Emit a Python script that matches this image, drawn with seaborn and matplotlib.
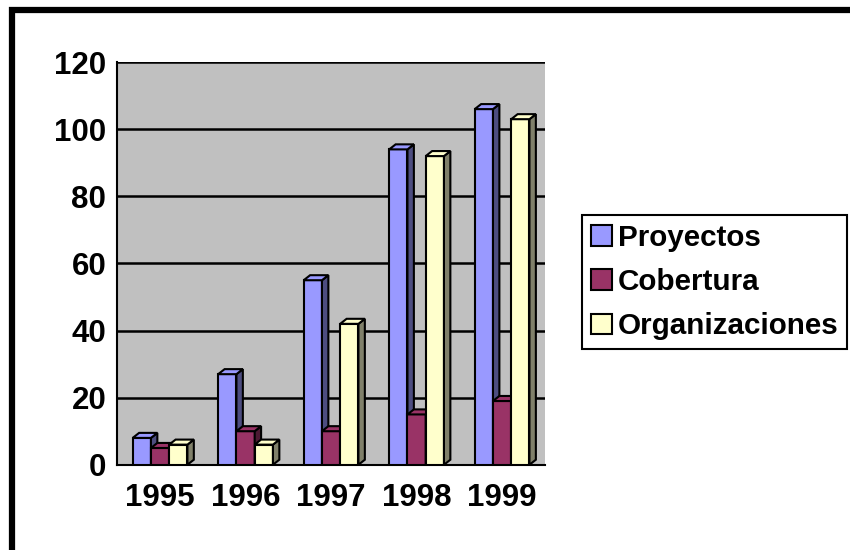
import pandas as pd
import numpy as np
import matplotlib.pyplot as plt
import seaborn as sns
from matplotlib.patches import Polygon, Rectangle

# Datos
anios = ['1995', '1996', '1997', '1998', '1999']
series = ['Proyectos', 'Cobertura', 'Organizaciones']
proyectos = [8, 27, 55, 94, 106]
cobertura = [5, 10, 10, 15, 19]
organizaciones = [6, 6, 42, 92, 103]

colores = ['#9999FF', '#993366', '#FFFFCC']
lados = ['#4D4D80', '#4D1A33', '#80806A']

df = pd.DataFrame({
    'anio': anios * 3,
    'serie': [s for s in series for _ in anios],
    'valor': proyectos + cobertura + organizaciones,
})

sns.set_style('white')
plt.rcParams['font.family'] = ['Liberation Sans', 'DejaVu Sans']
plt.rcParams['font.weight'] = 'bold'
plt.rcParams['text.color'] = 'black'
plt.rcParams['xtick.color'] = 'black'
plt.rcParams['ytick.color'] = 'black'

fig = plt.figure(figsize=(8.5, 5.5), dpi=100)
ax = fig.add_axes([0.138, 0.155, 0.503, 0.732])
ax.set_facecolor('#C0C0C0')

sns.barplot(data=df, x='anio', y='valor', hue='serie', hue_order=series,
            palette=colores, width=0.64, saturation=1, edgecolor='black',
            linewidth=1.5, ax=ax, legend=False, zorder=3)

# efecto 3D: caras lateral y superior a partir de las barras dibujadas
dx, dy = 0.075, 1.5
z = 3
for j in range(len(anios)):
    for k, cont in enumerate(ax.containers):
        p = cont.patches[j]
        x0, w, h = p.get_x(), p.get_width(), p.get_height()
        z += 1
        p.set_zorder(z)
        side = Polygon([(x0 + w, 0), (x0 + w + dx, dy), (x0 + w + dx, h + dy), (x0 + w, h)],
                       closed=True, fc=lados[k], ec='black', lw=1.5, zorder=z)
        top = Polygon([(x0, h), (x0 + dx, h + dy), (x0 + w + dx, h + dy), (x0 + w, h)],
                      closed=True, fc=colores[k], ec='black', lw=1.5, zorder=z)
        ax.add_patch(side)
        ax.add_patch(top)

ax.set_ylim(0, 120)
ax.set_xlim(-0.5, 4.5)
ax.set_yticks(range(0, 121, 20))
ax.yaxis.grid(True, color='black', lw=1.8, zorder=1)
ax.set_axisbelow(True)
ax.set_xlabel('')
ax.set_ylabel('')

for s in ['top', 'right']:
    ax.spines[s].set_visible(False)
ax.spines['left'].set_color('black')
ax.spines['bottom'].set_color('black')
ax.spines['left'].set_linewidth(1.5)
ax.spines['bottom'].set_linewidth(1.5)

ax.tick_params(axis='y', direction='out', length=6, width=1.5, color='black',
               labelsize=22.5, pad=2, labelcolor='black')
ax.set_xticks(np.arange(-0.5, 5, 1), minor=True)
ax.tick_params(axis='x', which='major', length=0, labelsize=22.5, pad=13, labelcolor='black')
ax.tick_params(axis='x', which='minor', direction='out', length=6, width=1.5, color='black')
for t in ax.get_xticklabels() + ax.get_yticklabels():
    t.set_fontweight('bold')

handles = [Rectangle((0, 0), 1, 1, fc=c, ec='black', lw=1.5) for c in colores]
leg = fig.legend(handles, series, loc='upper left', bbox_to_anchor=(0.685, 0.609),
                 frameon=True, fancybox=False, edgecolor='black', framealpha=1,
                 fontsize=21.3, handlelength=0.7, handleheight=0.7, handletextpad=0.2,
                 borderpad=0.3, labelspacing=0.55, borderaxespad=0)
leg.get_frame().set_linewidth(1.5)
for t in leg.get_texts():
    t.set_fontweight('bold')
    t.set_color('black')

# marco del grafico
fig.patches.append(Rectangle((12 / 850, -0.05), 1.1, 1 - 10 / 550 + 0.05,
                             transform=fig.transFigure, fill=False,
                             ec='black', lw=4.5, zorder=10))

fig.savefig('out.png', dpi=100)
